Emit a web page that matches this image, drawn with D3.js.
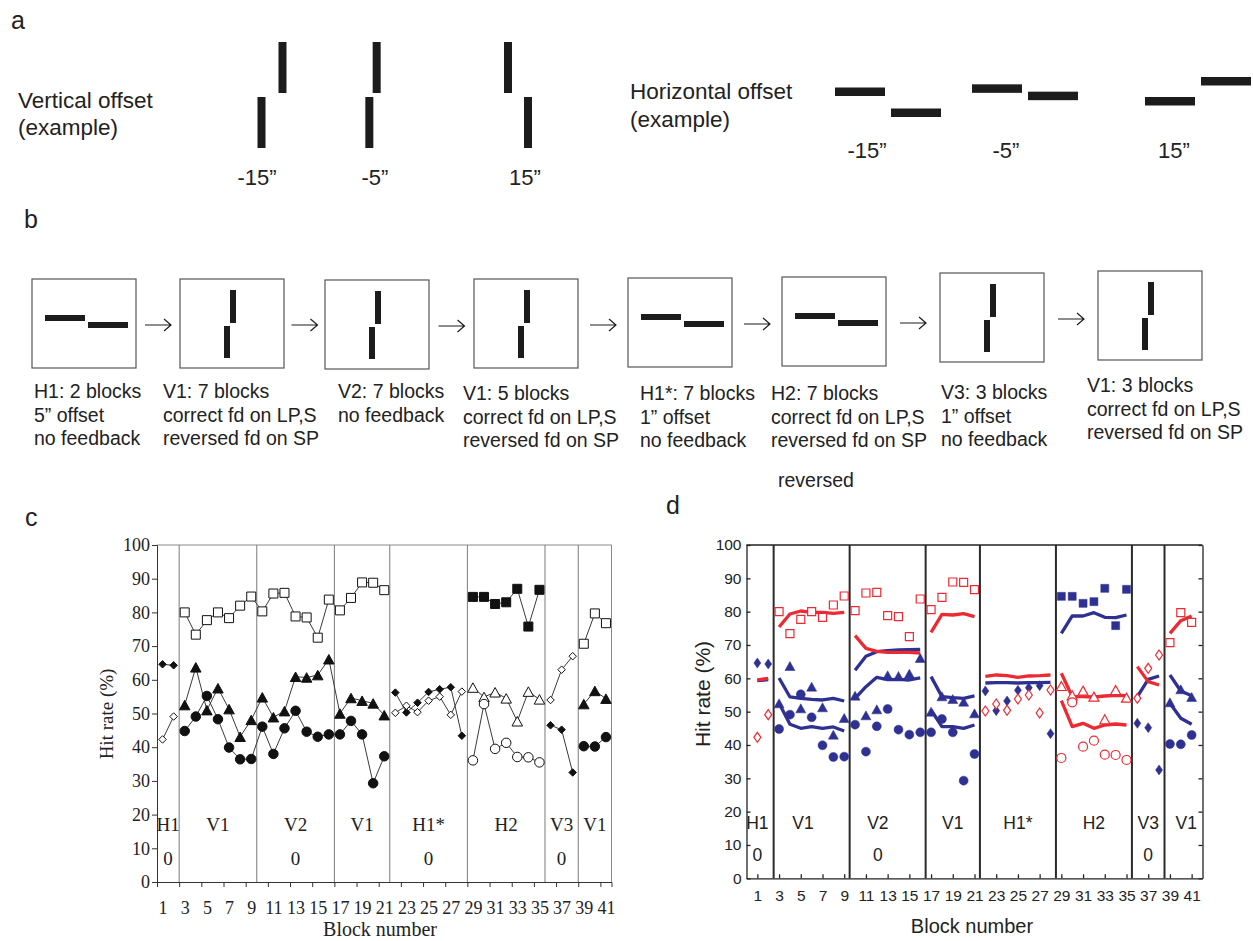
<!DOCTYPE html>
<html>
<head>
<meta charset="utf-8">
<script src="https://cdn.jsdelivr.net/npm/d3@7"></script>
<style>
  body { margin: 0; background: #fff; }
  svg text { font-family: "Liberation Sans", Arial, sans-serif; fill: #222; }
</style>
</head>
<body>
<script>
// ---- data ----
var blocks = [1,2,3,4,5,6,7,8,9,10,11,12,13,14,15,16,17,18,19,20,21,22,23,24,25,26,27,28,29,30,31,32,33,34,35,36,37,38,39,40,41];
var xTickLabels = [1,3,5,7,9,11,13,15,17,19,21,23,25,27,29,31,33,35,37,39,41];
var yTicks = [0,10,20,30,40,50,60,70,80,90,100];

var phaseNames = ["H1","V1","V2","V1","H1*","H2","V3","V1"];
var phaseFirst = [1,3,10,17,22,29,36,39];
var phaseLast  = [2,9,16,21,28,35,38,41];
var zeroInC = [true,false,true,false,true,false,true,false];
var zeroInD = [true,false,true,false,false,false,true,false];

var offsetValues = [-15,-5,15];
var offsetLabels = ["-15\u201D","-5\u201D","15\u201D"];

var boxKinds = ["h","v","v","v","h","h","v","v"];
var boxTexts = [
  ["H1: 2 blocks","5\u201D offset","no feedback"],
  ["V1: 7 blocks","correct fd on LP,S","reversed fd on SP"],
  ["V2: 7 blocks","no feedback"],
  ["V1: 5 blocks","correct fd on LP,S","reversed fd on SP"],
  ["H1*: 7 blocks","1\u201D offset","no feedback"],
  ["H2: 7 blocks","correct fd on LP,S","reversed fd on SP"],
  ["V3: 3 blocks","1\u201D offset","no feedback"],
  ["V1: 3 blocks","correct fd on LP,S","reversed fd on SP"]
];

// observed hit rates (%), one entry per block, null = not measured
var openSquare = [null,null, 80.0,73.4,77.7,80.0,78.3,82.0,84.7, 80.3,85.6,85.8,78.8,78.5,72.5,83.8, 80.6,84.3,88.9,88.8,86.6,
  null,null,null,null,null,null,null, null,null,null,null,null,null,null, null,null,null, 70.7,79.7,76.8];
var filledTriangle = [null,null, 52.5,63.7,51.0,57.5,51.3,43.1,48.1, 54.8,48.9,50.7,60.9,60.7,61.4,66.1, 50.0,54.6,53.8,53.0,49.5,
  null,null,null,null,null,null,null, null,null,null,null,null,null,null, null,null,null, 52.8,56.7,54.4];
var filledCircle = [null,null, 44.8,49.1,55.2,48.3,39.9,36.4,36.5, 46.1,38.0,45.6,50.8,44.6,43.1,43.8, 43.8,47.8,43.8,29.3,37.3,
  null,null,null,null,null,null,null, null,null,null,null,null,null,null, null,null,null, 40.3,40.2,43.0];
var filledDiamond = [64.6,64.3, null,null,null,null,null,null,null, null,null,null,null,null,null,null, null,null,null,null,null,
  56.2,50.3,53.2,56.4,57.2,57.8,43.4, null,null,null,null,null,null,null, 46.5,45.2,32.5, null,null,null];
var openDiamond = [42.3,49.1, null,null,null,null,null,null,null, null,null,null,null,null,null,null, null,null,null,null,null,
  50.2,52.3,50.4,53.8,55.0,49.6,56.5, null,null,null,null,null,null,null, 54.0,63.0,67.0, null,null,null];
var filledSquare = [null,null, null,null,null,null,null,null,null, null,null,null,null,null,null,null, null,null,null,null,null,
  null,null,null,null,null,null,null, 84.6,84.6,82.5,83.0,87.0,75.8,86.7, null,null,null, null,null,null];
var openTriangle = [null,null, null,null,null,null,null,null,null, null,null,null,null,null,null,null, null,null,null,null,null,
  null,null,null,null,null,null,null, 57.7,54.9,56.3,54.5,47.7,56.5,54.2, null,null,null, null,null,null];
var openCircle = [null,null, null,null,null,null,null,null,null, null,null,null,null,null,null,null, null,null,null,null,null,
  null,null,null,null,null,null,null, 36.1,52.8,39.5,41.3,37.1,37.0,35.5, null,null,null, null,null,null];

// model fits (panel d)
var modelRedUpper = [59.5,60.0, 75.4,79.3,80.2,79.8,79.8,79.5,79.8, 72.8,69.0,68.1,67.8,67.8,67.8,67.6, 73.8,79.2,79.0,79.4,78.5,
  60.6,61.0,60.8,60.3,60.7,60.8,61.0, 61.5,54.5,54.5,54.4,54.7,54.9,54.8, 63.5,59.0,58.0, 73.5,77.3,78.7];
var modelRedLower = [null,null, null,null,null,null,null,null,null, null,null,null,null,null,null,null, null,null,null,null,null,
  null,null,null,null,null,null,null, 53.3,45.5,46.5,45.0,46.0,46.3,46.0, null,null,null, null,null,null];
var modelBlueUpper = [59.3,59.6, 60.1,54.4,54.0,53.7,53.5,54.0,53.2, 62.4,66.6,68.0,68.3,68.5,68.6,68.7, 60.5,54.5,54.2,54.0,54.7,
  58.6,58.7,58.7,58.6,58.7,58.7,58.8, 73.5,78.7,78.7,79.7,78.3,78.2,79.0, 54.5,59.7,60.7, 61.0,56.2,54.8];
var modelBlueLower = [null,null, 52.5,46.2,45.0,45.5,45.0,45.4,44.2, 54.0,57.5,60.3,59.6,59.7,59.5,60.1, 50.5,45.5,45.5,45.0,46.0,
  null,null,null,null,null,null,null, null,null,null,null,null,null,null, null,null,null, 52.5,48.0,46.2];

(function(){

  var RED = "#ec2a33", BLUE = "#2e3192", INK = "#1c1c1c";
  var SERIF = "'Liberation Serif', 'Times New Roman', serif";

  var svg = d3.select("body").append("svg")
    .attr("width", 1253).attr("height", 941);

  // panel letters
  [["a",11,29],["b",24,228],["c",25,526],["d",666,514]].forEach(function(l){
    svg.append("text").attr("x", l[1]).attr("y", l[2])
      .style("font-size", "25px").text(l[0]);
  });

  // ---------- panel a ----------
  var gA = svg.append("g");
  var shift = d3.scaleLinear().domain([-15, 15]).range([21, -20]);

  gA.append("text").attr("x", 18).attr("y", 108).style("font-size", "22.5px").text("Vertical offset");
  gA.append("text").attr("x", 18).attr("y", 135).style("font-size", "22.5px").text("(example)");
  var vPairCx = [272, 373, 518], vLabelX = [257, 375, 525];
  offsetValues.forEach(function(o, i){
    var s = shift(o);
    gA.append("rect").attr("x", vPairCx[i] - s/2 - 4).attr("y", 97).attr("width", 8).attr("height", 51).attr("fill", INK);
    gA.append("rect").attr("x", vPairCx[i] + s/2 - 4).attr("y", 42).attr("width", 8).attr("height", 51).attr("fill", INK);
    gA.append("text").attr("x", vLabelX[i]).attr("y", 185).attr("text-anchor", "middle")
      .style("font-size", "22px").text(offsetLabels[i]);
  });

  gA.append("text").attr("x", 630).attr("y", 99).style("font-size", "22.5px").text("Horizontal offset");
  gA.append("text").attr("x", 630).attr("y", 127).style("font-size", "22.5px").text("(example)");
  var hPairX = [835, 972, 1145], hPairMid = [102, 92, 91], hLabelX = [867, 1006, 1174];
  offsetValues.forEach(function(o, i){
    var s = shift(o);
    gA.append("rect").attr("x", hPairX[i]).attr("y", hPairMid[i] - s/2 - 4).attr("width", 50).attr("height", 8.5).attr("fill", INK);
    gA.append("rect").attr("x", hPairX[i] + 56).attr("y", hPairMid[i] + s/2 - 4).attr("width", 50).attr("height", 8.5).attr("fill", INK);
    gA.append("text").attr("x", hLabelX[i]).attr("y", 158).attr("text-anchor", "middle")
      .style("font-size", "22px").text(offsetLabels[i]);
  });

  // ---------- panel b ----------
  var gB = svg.append("g");
  var boxX = [32, 180, 325, 474, 628, 782, 940, 1098];
  var boxY = [279, 279, 280, 279, 278, 277, 273, 271];
  var textX = [34, 163, 338, 463, 640, 771, 941, 1087];
  var textY = [398, 398, 398, 400, 400, 400, 399, 392];
  var BW = 104, BH = 89;

  boxKinds.forEach(function(k, i){
    var g = gB.append("g").attr("transform", "translate(" + boxX[i] + "," + boxY[i] + ")");
    g.append("rect").attr("width", BW).attr("height", BH)
      .attr("fill", "none").attr("stroke", "#555").attr("stroke-width", 1.2);
    if (k === "h") {
      g.append("rect").attr("x", 13).attr("y", 36).attr("width", 40).attr("height", 6).attr("fill", INK);
      g.append("rect").attr("x", 56).attr("y", 43).attr("width", 40).attr("height", 6).attr("fill", INK);
    } else {
      g.append("rect").attr("x", 50).attr("y", 11).attr("width", 6).attr("height", 33).attr("fill", INK);
      g.append("rect").attr("x", 44).attr("y", 47).attr("width", 6).attr("height", 32).attr("fill", INK);
    }
    boxTexts[i].forEach(function(t, j){
      gB.append("text").attr("x", textX[i]).attr("y", textY[i] + j * 23.5)
        .style("font-size", "19.5px").text(t);
    });
    if (i < boxKinds.length - 1) {
      var x1 = boxX[i] + BW, x2 = boxX[i + 1];
      var mid = (x1 + x2) / 2, ay = boxY[i] + 46;
      gB.append("path")
        .attr("d", "M" + (mid - 13) + "," + ay + "H" + (mid + 13) +
                   "M" + (mid + 6) + "," + (ay - 6) + "L" + (mid + 13) + "," + ay + "L" + (mid + 6) + "," + (ay + 6))
        .attr("fill", "none").attr("stroke", INK).attr("stroke-width", 1.2);
    }
  });
  gB.append("text").attr("x", 778).attr("y", 487).style("font-size", "19.5px").text("reversed");

  // ---------- marker shapes ----------
  function shapePath(shape, w, h) {
    var a = w / 2, b = h / 2;
    if (shape === "circle")
      return "M" + (-a) + ",0A" + a + "," + a + " 0 1,0 " + a + ",0A" + a + "," + a + " 0 1,0 " + (-a) + ",0Z";
    if (shape === "square")
      return "M" + (-a) + "," + (-b) + "H" + a + "V" + b + "H" + (-a) + "Z";
    if (shape === "triangle")
      return "M0," + (-b) + "L" + a + "," + b + "L" + (-a) + "," + b + "Z";
    return "M0," + (-b) + "L" + a + ",0L0," + b + "L" + (-a) + ",0Z";
  }

  var seriesList = [
    { values: openSquare,     shape: "square",   open: true,  color: RED },
    { values: filledTriangle, shape: "triangle", open: false, color: BLUE },
    { values: filledCircle,   shape: "circle",   open: false, color: BLUE },
    { values: filledDiamond,  shape: "diamond",  open: false, color: BLUE },
    { values: openDiamond,    shape: "diamond",  open: true,  color: RED },
    { values: filledSquare,   shape: "square",   open: false, color: BLUE },
    { values: openTriangle,   shape: "triangle", open: true,  color: RED },
    { values: openCircle,     shape: "circle",   open: true,  color: RED }
  ];
  var sizeC = { square: [9, 9], triangle: [10.5, 9.5], circle: [9.5, 9.5], diamond: [7.5, 7.5] };
  var sizeD = { square: [8, 8], triangle: [10, 9], circle: [9, 9], diamond: [7, 10] };

  // ---------- panel c ----------
  var gC = svg.append("g");
  var xC = d3.scaleLinear().domain([0.5, 41.5]).range([157, 611.5]);
  var yC = d3.scaleLinear().domain([0, 100]).range([882, 545]);

  gC.append("path").attr("d", "M" + xC(0.5) + "," + yC(100) + "H" + xC(41.5) + "V" + yC(0))
    .attr("fill", "none").attr("stroke", "#8a8a8a").attr("stroke-width", 1);
  phaseLast.slice(0, -1).forEach(function(b){
    gC.append("line").attr("x1", xC(b + 0.5)).attr("x2", xC(b + 0.5))
      .attr("y1", yC(100)).attr("y2", yC(0)).attr("stroke", "#7a7a7a").attr("stroke-width", 1);
  });

  var axCy = gC.append("g").attr("transform", "translate(" + xC(0.5) + ",0)")
    .call(d3.axisLeft(yC).tickValues(yTicks).tickSize(5).tickPadding(2));
  var axCt = gC.append("g").attr("transform", "translate(0," + yC(0) + ")")
    .call(d3.axisBottom(xC).tickValues(xTickLabels.map(function(v){ return v - 0.5; })).tickSize(5).tickFormat(""));
  var axCx = gC.append("g").attr("transform", "translate(0," + yC(0) + ")")
    .call(d3.axisBottom(xC).tickValues(xTickLabels).tickSize(0).tickPadding(19));
  axCx.select(".domain").remove();
  [axCy, axCt, axCx].forEach(function(ax){
    ax.selectAll(".domain, line").attr("stroke", "#333");
    ax.selectAll("text").style("font-family", SERIF).style("font-size", "18px").attr("fill", "#222");
  });

  var lineC = d3.line()
    .defined(function(d){ return d[1] != null; })
    .x(function(d){ return xC(d[0]); })
    .y(function(d){ return yC(d[1]); });

  seriesList.forEach(function(s){
    var pts = blocks.map(function(b, i){ return [b, s.values[i]]; });
    gC.append("path").attr("d", lineC(pts))
      .attr("fill", "none").attr("stroke", "#3a3a3a").attr("stroke-width", 1);
  });
  seriesList.forEach(function(s){
    var pts = blocks.map(function(b, i){ return [b, s.values[i]]; })
      .filter(function(d){ return d[1] != null; });
    var wh = sizeC[s.shape];
    gC.selectAll(null).data(pts).enter().append("path")
      .attr("transform", function(d){ return "translate(" + xC(d[0]) + "," + yC(d[1]) + ")"; })
      .attr("d", shapePath(s.shape, wh[0], wh[1]))
      .attr("fill", s.open ? "#fff" : "#111")
      .attr("stroke", "#111").attr("stroke-width", 1);
  });

  phaseNames.forEach(function(n, i){
    var cx = xC((phaseFirst[i] + phaseLast[i]) / 2);
    gC.append("text").attr("x", cx).attr("y", 831).attr("text-anchor", "middle")
      .style("font-family", SERIF).style("font-size", "19px").text(n);
    if (zeroInC[i])
      gC.append("text").attr("x", cx).attr("y", 865).attr("text-anchor", "middle")
        .style("font-family", SERIF).style("font-size", "19px").text("0");
  });

  gC.append("text").attr("transform", "translate(113,714) rotate(-90)").attr("text-anchor", "middle")
    .style("font-family", SERIF).style("font-size", "19px").text("Hit rate (%)");
  gC.append("text").attr("x", 380).attr("y", 936).attr("text-anchor", "middle")
    .style("font-family", SERIF).style("font-size", "20px").text("Block number");

  // ---------- panel d ----------
  var gD = svg.append("g");
  var xD = d3.scaleLinear().domain([0, 42]).range([746.5, 1202.5]);
  var yD = d3.scaleLinear().domain([0, 100]).range([878.3, 545]);

  phaseLast.slice(0, -1).forEach(function(b){
    gD.append("line").attr("x1", xD(b + 0.5)).attr("x2", xD(b + 0.5))
      .attr("y1", yD(100)).attr("y2", yD(0)).attr("stroke", "#2a2a2a").attr("stroke-width", 2);
  });

  var axDy = gD.append("g").attr("transform", "translate(" + xD(0) + ",0)")
    .call(d3.axisLeft(yD).tickValues(yTicks).tickSizeInner(-4).tickSizeOuter(0).tickPadding(5));
  var axDr = gD.append("g").attr("transform", "translate(" + xD(42) + ",0)")
    .call(d3.axisRight(yD).tickValues(yTicks).tickSizeInner(-4).tickSizeOuter(0).tickFormat(""));
  var axDx = gD.append("g").attr("transform", "translate(0," + yD(0) + ")")
    .call(d3.axisBottom(xD).tickValues(xTickLabels).tickSizeInner(-4).tickSizeOuter(0).tickPadding(12));
  [axDy, axDr, axDx].forEach(function(ax){
    ax.selectAll(".domain, line").attr("stroke", "#222").attr("stroke-width", 1.3);
    ax.selectAll("text").style("font-size", "15.5px").attr("fill", "#222");
  });
  gD.append("line").attr("x1", xD(0)).attr("x2", xD(42)).attr("y1", yD(100)).attr("y2", yD(100))
    .attr("stroke", "#222").attr("stroke-width", 1.3);

  var lineD = d3.line()
    .defined(function(d){ return d[1] != null; })
    .x(function(d){ return xD(d[0]); })
    .y(function(d){ return yD(d[1]); });

  var models = [
    { values: modelBlueUpper, color: BLUE },
    { values: modelBlueLower, color: BLUE },
    { values: modelRedUpper,  color: RED },
    { values: modelRedLower,  color: RED }
  ];
  models.forEach(function(m){
    phaseFirst.forEach(function(f, i){
      var pts = blocks.slice(f - 1, phaseLast[i]).map(function(b){ return [b, m.values[b - 1]]; });
      if (pts.filter(function(d){ return d[1] != null; }).length < 2) return;
      gD.append("path").attr("d", lineD(pts))
        .attr("fill", "none").attr("stroke", m.color).attr("stroke-width", 3.3)
        .attr("stroke-linejoin", "round");
    });
  });

  seriesList.forEach(function(s){
    var pts = blocks.map(function(b, i){ return [b, s.values[i]]; })
      .filter(function(d){ return d[1] != null; });
    var wh = sizeD[s.shape];
    gD.selectAll(null).data(pts).enter().append("path")
      .attr("transform", function(d){ return "translate(" + xD(d[0]) + "," + yD(d[1]) + ")"; })
      .attr("d", shapePath(s.shape, wh[0], wh[1]))
      .attr("fill", s.open ? "#fff" : s.color)
      .attr("stroke", s.color).attr("stroke-width", s.open ? 1.2 : 0.5);
  });

  var dLabelBlock = [1, 5.2, 12.1, 19, 25, 32, 37, 40.5];
  phaseNames.forEach(function(n, i){
    var cx = xD(dLabelBlock[i]);
    gD.append("text").attr("x", cx).attr("y", 829).attr("text-anchor", "middle")
      .style("font-size", "17.5px").text(n);
    if (zeroInD[i])
      gD.append("text").attr("x", cx).attr("y", 861).attr("text-anchor", "middle")
        .style("font-size", "17.5px").text("0");
  });

  gD.append("text").attr("transform", "translate(710,694) rotate(-90)").attr("text-anchor", "middle")
    .style("font-size", "21px").text("Hit rate (%)");
  gD.append("text").attr("x", 972).attr("y", 933).attr("text-anchor", "middle")
    .style("font-size", "20px").text("Block number");

})();
</script>
</body>
</html>
